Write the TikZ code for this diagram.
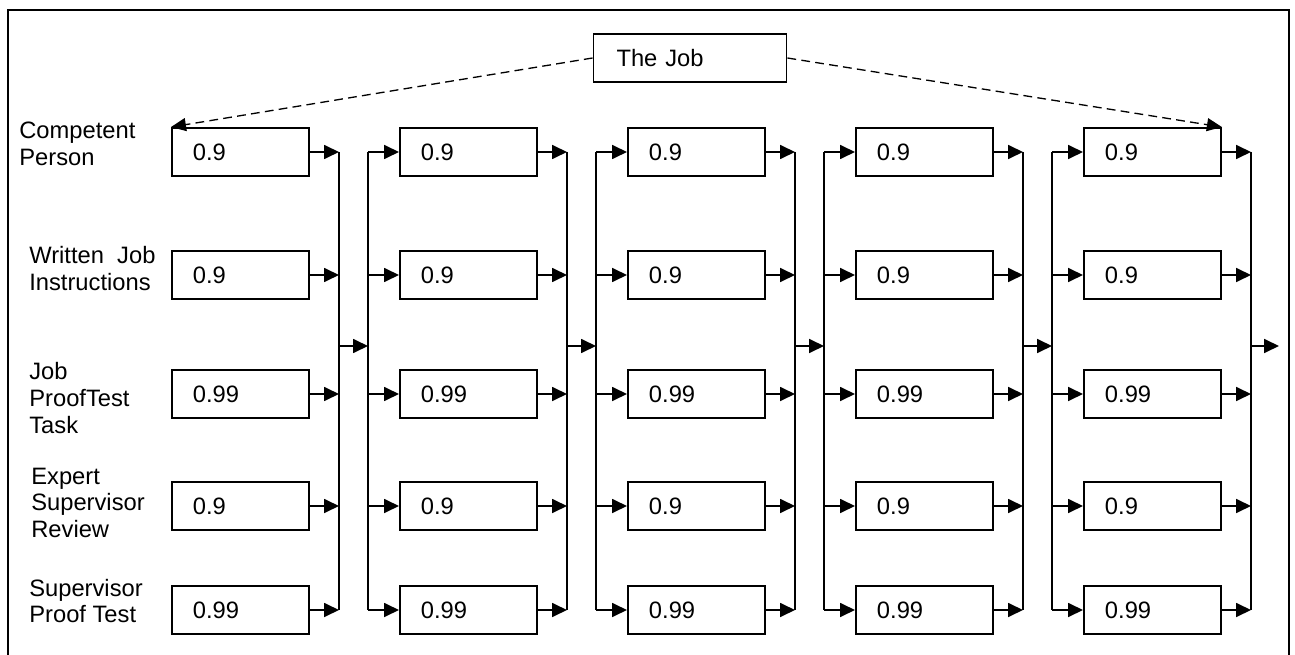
\documentclass[tikz,border=0pt]{standalone}
\usepackage{fontspec}
\setmainfont{Liberation Sans}
\usetikzlibrary{arrows.meta}
\newcommand{\ChainText}{\fontsize{13.5}{15.1}\selectfont}
\tikzset{
  valbox/.style={
    rectangle,
    draw=black,
    line width=1.1pt,
    anchor=west,
    minimum height=0.96cm,
    text width=1.9cm,
    inner xsep=0.42cm,
    align=left,
    font=\ChainText
  },
  jobbox/.style={valbox, anchor=center, text width=2.94cm, inner xsep=0.46cm},
  rowlabel/.style={anchor=west, align=left, inner sep=0pt, font=\ChainText},
  feed/.style={
    -{Triangle[length=0.3cm,width=0.28cm]},
    draw=black,
    line width=1.0pt
  },
  busline/.style={draw=black, line width=1.0pt},
  joblink/.style={
    -{Triangle[length=0.3cm,width=0.26cm]},
    draw=black,
    line width=0.75pt,
    dash pattern=on 5pt off 3pt
  },
  frameline/.style={draw=black, line width=1.6pt}
}

\begin{document}
\begin{tikzpicture}[x=0.02cm,y=-0.02cm]
\path[use as bounding box] (0,0) rectangle (1295,655);
\draw[frameline] (8,670) -- (8,10) -- (1289,10) -- (1289,670);

% task at the top
\node[jobbox] (job) at (690,58) {The Job};

% row labels
\node[rowlabel] (lbl1) at (19,144) {Competent\\Person};
\node[rowlabel] (lbl2) at (29,268.5) {Written\ \ Job\\Instructions};
\node[rowlabel] (lbl3) at (29,398) {Job\\ProofTest\\Task};
\node[rowlabel] (lbl4) at (31,502.5) {Expert\\Supervisor\\Review};
\node[rowlabel] (lbl5) at (29,601) {Supervisor\\Proof Test};

% five stages, each a parallel block of five boxes
\foreach \c in {0,...,4} {
  \foreach \r/\y/\p in {1/152/0.9, 2/275/0.9, 3/394/0.99, 4/506/0.9, 5/610/0.99} {
    \node[valbox] (b\c-\r) at (171+228*\c,\y) {\p};
    \coordinate (out\c-\r) at (339+228*\c,\y);
    \draw[feed] (b\c-\r.east) -- (out\c-\r);
  }
  \draw[busline] (out\c-1) -- (out\c-5);
  \coordinate (tap\c) at (339+228*\c,346);
}

% input buses of stages 2 to 5
\foreach \c [evaluate=\c as \prev using int(\c-1)] in {1,...,4} {
  \foreach \r/\y in {1/152, 2/275, 3/394, 4/506, 5/610} {
    \coordinate (in\c-\r) at (140+228*\c,\y);
    \draw[feed] (in\c-\r) -- (b\c-\r.west);
  }
  \draw[busline] (in\c-1) -- (in\c-5);
  \coordinate (join\c) at (140+228*\c,346);
  \draw[feed] (tap\prev) -- (join\c);
}

% chain output
\coordinate (sink) at (1279,346);
\draw[feed] (tap4) -- (sink);

% dashed links from the job
\draw[joblink] (job.west) -- (b0-1.north west);
\draw[joblink] (job.east) -- (b4-1.north east);

\end{tikzpicture}
\end{document}
